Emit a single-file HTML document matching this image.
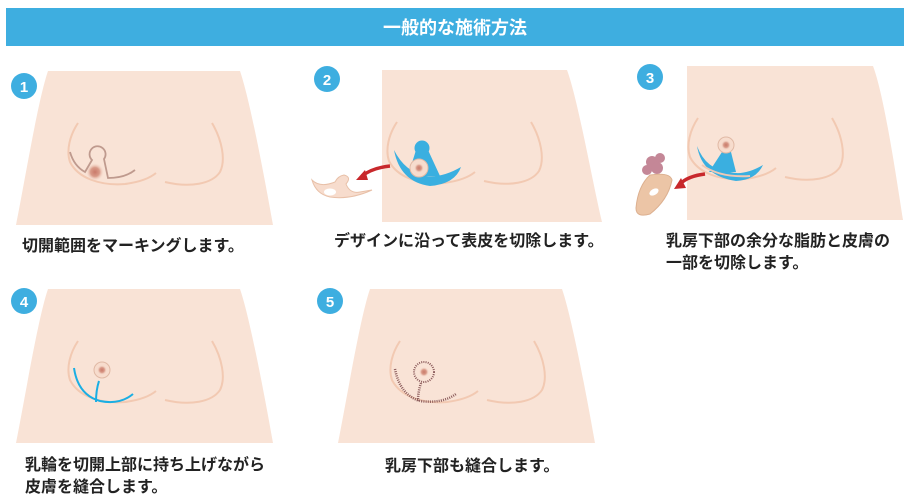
<!DOCTYPE html>
<html><head><meta charset="utf-8"><style>
html,body{margin:0;padding:0;background:#fff;width:910px;height:502px;overflow:hidden}
svg{display:block}
text{font-family:"Liberation Sans","Noto Sans CJK JP",sans-serif;font-weight:bold}
</style></head><body>
<svg width="910" height="502" viewBox="0 0 910 502" xmlns="http://www.w3.org/2000/svg">
<defs>
<radialGradient id="nip"><stop offset="0" stop-color="#c97a6a"/><stop offset="0.5" stop-color="#d99a88"/><stop offset="1" stop-color="#f7dfd2" stop-opacity="0"/></radialGradient>
<g id="breasts">
<path d="M78,123 C70,135 66,150 70,162 C78,178 100,186 125,184 C140,182 150,178 156,173" fill="none" stroke="#f2c9b2" stroke-width="2"/>
<path d="M212,123 C222,140 226,160 220,172 C212,184 190,188 165,182" fill="none" stroke="#f2c9b2" stroke-width="2"/>
</g>
<g id="torso">
<path d="M48,71 L240,71 C250,100 265,180 273,225 L16,225 C25,180 38,100 48,71 Z" fill="#f9e3d6"/>
<use href="#breasts"/>
</g>
</defs>
<rect x="6" y="8" width="898" height="38" fill="#3eaee0"/>
<text x="455" y="34" fill="#fff" font-size="18" text-anchor="middle">一般的な施術方法</text>

<!-- panel 1 -->
<use href="#torso"/>
<circle cx="95" cy="172" r="9" fill="url(#nip)"/>
<path d="M70,152 Q74,166 85,172 L92,160 A8,8 0 1 1 104,159 L108,178 Q125,178 135,170" fill="none" stroke="#bf9a8e" stroke-width="1.8"/>
<circle cx="24" cy="86" r="13" fill="#3eaee0"/><text x="24" y="92" fill="#fff" font-size="15" text-anchor="middle">1</text>
<text x="22" y="251" font-size="16" fill="#222">切開範囲をマーキングします。</text>

<!-- panel 2 -->
<path d="M382,70 L567,70 C578,100 592,180 602,222 L382,222Z" fill="#f9e3d6"/>
<use href="#breasts" transform="translate(319,-1)"/>
<path d="M394,150 Q400,182 430,186 Q455,184 461,167 Q442,178 426,176 Q405,172 394,150Z" fill="#3aafe0"/>
<path d="M416,150 L428,150 L440,176 L408,176Z" fill="#3aafe0"/>
<circle cx="422" cy="148" r="7.5" fill="#3aafe0"/>
<circle cx="419" cy="168" r="9" fill="#f7dccd" stroke="#e0b9a5"/><circle cx="419" cy="168" r="5" fill="url(#nip)"/>
<path d="M390,166 Q372,168 362,176" fill="none" stroke="#c8282c" stroke-width="3.5"/>
<path d="M356,180 L365,170 L368,180Z" fill="#c8282c"/>
<path d="M312,180 Q320,188 335,182 Q338,176 344,175 Q352,177 346,184 Q350,194 360,192 L372,190 Q350,200 330,197 Q316,194 312,180Z" fill="#f7dccd" stroke="#e8c0a8"/>
<ellipse cx="330" cy="192" rx="6" ry="3.5" fill="#fff"/>
<circle cx="327" cy="79" r="13" fill="#3eaee0"/><text x="327" y="85" fill="#fff" font-size="15" text-anchor="middle">2</text>
<text x="334" y="246" font-size="16" fill="#222">デザインに沿って表皮を切除します。</text>

<!-- panel 3 -->
<path d="M687,66 L873,66 C884,95 896,175 903,220 L687,220Z" fill="#f9e3d6"/>
<use href="#breasts" transform="translate(620,-5)"/>
<path d="M697,146 Q702,176 736,181 Q756,180 763,165 Q744,176 730,172 Q706,170 697,146Z" fill="#3aafe0"/>
<path d="M722,152 L731,152 L736,172 L709,172Z" fill="#3aafe0"/>
<path d="M702,165 Q720,178 750,176" fill="none" stroke="#f0c8b4" stroke-width="2"/>
<circle cx="726" cy="145" r="8" fill="#f7dccd" stroke="#e0b9a5"/><circle cx="726" cy="145" r="5" fill="url(#nip)"/>
<path d="M705,174 Q688,176 680,184" fill="none" stroke="#c8282c" stroke-width="3.5"/>
<path d="M674,189 L681,178 L686,188Z" fill="#c8282c"/>
<circle cx="652" cy="162" r="6" fill="#c48797"/><circle cx="660" cy="158" r="5" fill="#c48797"/><circle cx="647" cy="170" r="5" fill="#c48797"/><circle cx="657" cy="168" r="6" fill="#c48797"/>
<path d="M650,175 Q670,172 672,180 Q668,200 650,214 Q636,218 636,208 Q638,186 650,175Z" fill="#ecc5a6" stroke="#dcb090"/>
<ellipse cx="654" cy="192" rx="5" ry="3" fill="#fff" transform="rotate(-30 654 192)"/>
<circle cx="650" cy="77" r="13" fill="#3eaee0"/><text x="650" y="83" fill="#fff" font-size="15" text-anchor="middle">3</text>
<text x="666" y="246" font-size="16" fill="#222">乳房下部の余分な脂肪と皮膚の</text>
<text x="666" y="268" font-size="16" fill="#222">一部を切除します。</text>

<!-- panel 4 -->
<use href="#torso" transform="translate(0,218)"/>
<circle cx="102" cy="370" r="8" fill="#f7dccd" stroke="#e0b9a5"/><circle cx="102" cy="370" r="5" fill="url(#nip)"/>
<path d="M74,368 Q78,395 100,401 Q120,405 133,394" fill="none" stroke="#1aaee3" stroke-width="2"/>
<path d="M99,381 Q96,390 96,402" fill="none" stroke="#1aaee3" stroke-width="2"/>
<circle cx="24" cy="301" r="13" fill="#3eaee0"/><text x="24" y="307" fill="#fff" font-size="15" text-anchor="middle">4</text>
<text x="25" y="470" font-size="16" fill="#222">乳輪を切開上部に持ち上げながら</text>
<text x="25" y="492" font-size="16" fill="#222">皮膚を縫合します。</text>

<!-- panel 5 -->
<use href="#torso" transform="translate(322,218)"/>
<circle cx="424" cy="372" r="5" fill="url(#nip)"/>
<circle cx="424" cy="372" r="10" fill="none" stroke="#8a5a5a" stroke-width="2" stroke-dasharray="1 1.2"/>
<path d="M395,369 Q400,395 420,401 Q442,404 456,394" fill="none" stroke="#8a5a5a" stroke-width="2.5" stroke-dasharray="1 1.2"/>
<path d="M421,383 Q418,392 418,401" fill="none" stroke="#8a5a5a" stroke-width="2.5" stroke-dasharray="1 1.2"/>
<circle cx="330" cy="301" r="13" fill="#3eaee0"/><text x="330" y="307" fill="#fff" font-size="15" text-anchor="middle">5</text>
<text x="385" y="471" font-size="16" fill="#222">乳房下部も縫合します。</text>
</svg>
</body></html>
